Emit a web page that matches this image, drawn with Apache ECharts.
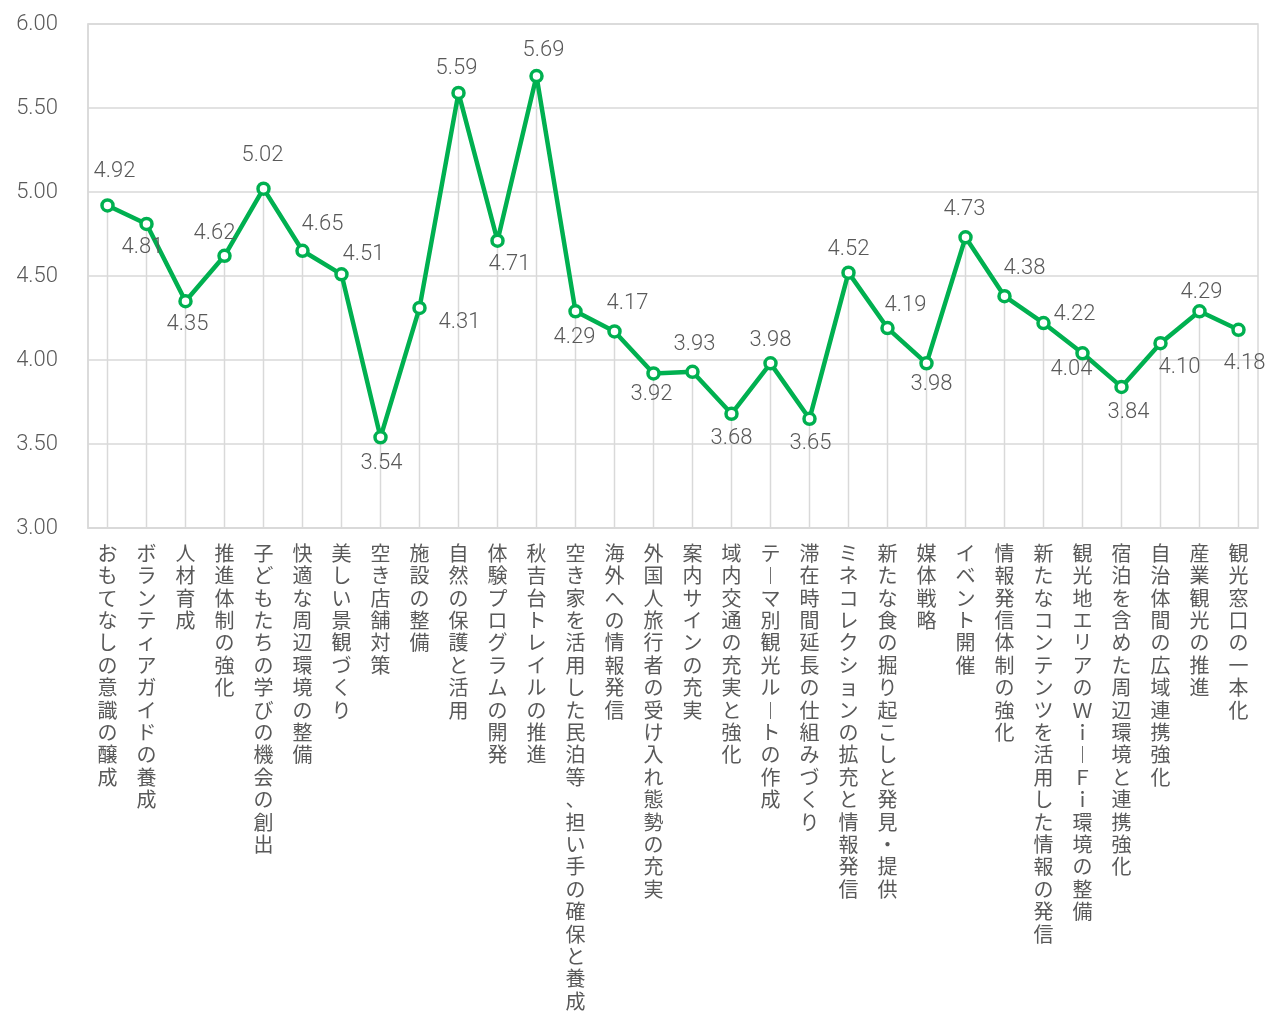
<!DOCTYPE html>
<html>
<head>
<meta charset="utf-8">
<script src="https://cdn.jsdelivr.net/npm/echarts@6/dist/echarts.min.js"></script>
<style>
  html, body { margin: 0; padding: 0; background: #ffffff; }
  #chart { width: 1268px; height: 1028px; }
</style>
</head>
<body>
<div id="chart"></div>
<script>
// Measures (categories) and their average scores
const categories = [
  'おもてなしの意識の醸成',
  'ボランティアガイドの養成',
  '人材育成',
  '推進体制の強化',
  '子どもたちの学びの機会の創出',
  '快適な周辺環境の整備',
  '美しい景観づくり',
  '空き店舗対策',
  '施設の整備',
  '自然の保護と活用',
  '体験プログラムの開発',
  '秋吉台トレイルの推進',
  '空き家を活用した民泊等、担い手の確保と養成',
  '海外への情報発信',
  '外国人旅行者の受け入れ態勢の充実',
  '案内サインの充実',
  '域内交通の充実と強化',
  'テーマ別観光ルートの作成',
  '滞在時間延長の仕組みづくり',
  'ミネコレクションの拡充と情報発信',
  '新たな食の掘り起こしと発見・提供',
  '媒体戦略',
  'イベント開催',
  '情報発信体制の強化',
  '新たなコンテンツを活用した情報の発信',
  '観光地エリアのＷｉ－Ｆｉ環境の整備',
  '宿泊を含めた周辺環境と連携強化',
  '自治体間の広域連携強化',
  '産業観光の推進',
  '観光窓口の一本化'
];

const scores = [
  4.92, 4.81, 4.35, 4.62, 5.02, 4.65, 4.51, 3.54, 4.31, 5.59,
  4.71, 5.69, 4.29, 4.17, 3.92, 3.93, 3.68, 3.98, 3.65, 4.52,
  4.19, 3.98, 4.73, 4.38, 4.22, 4.04, 3.84, 4.10, 4.29, 4.18
];

const yTicks = { min: 3, max: 6, step: 0.5 };

// Where each value label sits relative to its point (label centre offset, px)
const labelOffsets = [
  [7, -34], [-4, 24], [2, 23], [-10, -22], [-1, -33], [20, -26], [22, -20], [1, 26], [40, 15], [-2, -24],
  [12, 24], [7, -26], [-1, 26], [13, -28], [-2, 21], [2, -27], [0, 25], [0, -23], [1, 25], [0, -23],
  [18, -23], [5, 21], [-1, -28], [20, -28], [31, -9], [-11, 16], [7, 26], [19, 24], [2, -19], [6, 34]
];

const textColor = '#595959';
const gridColor = '#d9d9d9';
const cjkFont = '"Noto Sans CJK JP", "Noto Sans", sans-serif';
const numFont = 'Roboto, "Noto Sans", sans-serif';

// Stack characters one per line for vertical category text
function verticalText(s) {
  return Array.from(s)
    .map(ch => (ch === 'ー' || ch === '－') ? '︱' : ch)
    .join('\n');
}

const chart = echarts.init(document.getElementById('chart'), null, { renderer: 'canvas' });

chart.setOption({
  animation: false,
  backgroundColor: '#ffffff',
  grid: {
    left: 88, right: 10, top: 24, bottom: 500,
    show: true, borderColor: gridColor, borderWidth: 1.5, backgroundColor: 'transparent'
  },
  xAxis: {
    type: 'category',
    data: categories,
    boundaryGap: true,
    axisLine: { show: true, lineStyle: { color: gridColor, width: 1.5 } },
    axisTick: { show: false },
    splitLine: { show: false },
    axisLabel: {
      interval: 0,
      margin: 14,
      color: textColor,
      fontSize: 20,
      lineHeight: 22.4,
      fontFamily: cjkFont,
      align: 'center',
      verticalAlign: 'top',
      formatter: verticalText
    }
  },
  yAxis: {
    type: 'value',
    min: yTicks.min,
    max: yTicks.max,
    interval: yTicks.step,
    axisLine: { show: true, lineStyle: { color: gridColor, width: 1.5 } },
    axisTick: { show: false },
    splitLine: { show: true, lineStyle: { color: gridColor, width: 1.5 } },
    axisLabel: {
      margin: 30,
      padding: [4, 0, 0, 0],
      color: textColor,
      fontSize: 22,
      fontWeight: 300,
      fontFamily: numFont,
      formatter: v => v.toFixed(2)
    }
  },
  series: [
    {
      // thin drop lines from each point to the axis
      type: 'bar',
      data: scores,
      barWidth: 1.5,
      silent: true,
      itemStyle: { color: gridColor },
      z: 1
    },
    {
      type: 'line',
      data: scores.map((v, i) => ({
        value: v,
        label: { offset: labelOffsets[i] }
      })),
      z: 5,
      lineStyle: { color: '#00b050', width: 4.5 },
      symbol: 'circle',
      symbolSize: 11,
      itemStyle: { color: '#ffffff', borderColor: '#00b050', borderWidth: 3.5 },
      label: {
        show: true,
        position: 'inside',
        color: textColor,
        fontSize: 22,
        fontWeight: 300,
        fontFamily: numFont,
        formatter: p => p.value.toFixed(2)
      }
    }
  ]
});
</script>
</body>
</html>
